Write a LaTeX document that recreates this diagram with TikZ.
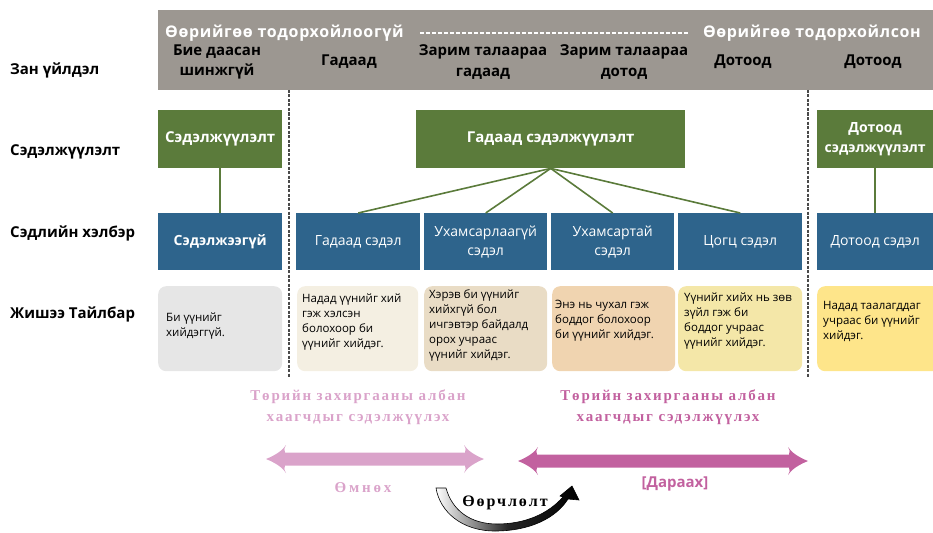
\documentclass[tikz,border=0pt]{standalone}
\usepackage{fontspec}
\setmainfont{Open Sans}
\newfontfamily\hdrfont{Open Sans}[LetterSpace=4]
\newfontfamily\pinkserif{Liberation Serif}[LetterSpace=12]
\newfontfamily\omserif{Liberation Serif}[LetterSpace=19]
\newfontfamily\blackserif{Liberation Serif}[LetterSpace=12]
\definecolor{gband}{HTML}{9C9791}
\definecolor{mgreen}{HTML}{5B7B3B}
\definecolor{mblue}{HTML}{2E648C}
\definecolor{sepgray}{HTML}{4A4A4A}
\definecolor{ea}{HTML}{E6E6E6}
\definecolor{eb}{HTML}{F4EFE2}
\definecolor{ec}{HTML}{E9DCC5}
\definecolor{ed}{HTML}{F0D4B0}
\definecolor{ee}{HTML}{F4E7A8}
\definecolor{ef}{HTML}{FEE58A}
\definecolor{lpink}{HTML}{DAA3CA}
\definecolor{dpink}{HTML}{C2619F}
\newcommand{\dblarr}[4]{%
  \fill[#4] (#1,#3) .. controls ({#1+10},{#3-4}) and ({#1+17},{#3-9}) .. ({#1+20},{#3-14})
    .. controls ({#1+18},{#3-10}) .. ({#1+19},{#3-6.5}) -- ({#2-19},{#3-6.5})
    .. controls ({#2-18},{#3-10}) .. ({#2-20},{#3-14})
    .. controls ({#2-17},{#3-9}) and ({#2-10},{#3-4}) .. (#2,#3)
    .. controls ({#2-10},{#3+4}) and ({#2-17},{#3+9}) .. ({#2-20},{#3+14})
    .. controls ({#2-18},{#3+10}) .. ({#2-19},{#3+6.5}) -- ({#1+19},{#3+6.5})
    .. controls ({#1+18},{#3+10}) .. ({#1+20},{#3+14})
    .. controls ({#1+17},{#3+9}) and ({#1+10},{#3+4}) .. (#1,#3) -- cycle;}
\begin{document}
\begin{tikzpicture}[x=1pt,y=-1pt,
  lbl/.style={anchor=west,inner sep=0pt,font=\bfseries\fontsize{15}{18}\selectfont},
  hdr/.style={inner sep=0pt,align=center,font=\bfseries\fontsize{15}{20.5}\selectfont},
  gbox/.style={anchor=north west,fill=mgreen,text=white,inner sep=0pt,align=center,
    minimum height=58pt,font=\bfseries\fontsize{15}{20}\selectfont},
  bbox/.style={anchor=north west,fill=mblue,text=white,inner sep=0pt,align=center,
    minimum height=57pt,font=\fontsize{14}{19}\selectfont},
  ebox/.style={anchor=north west,rounded corners=8pt,inner sep=0pt,minimum height=85pt},
  etext/.style={anchor=west,align=left,inner sep=0pt,font=\fontsize{11.5}{15}\selectfont},
  conn/.style={draw=mgreen,line width=1.6pt},
  sepline/.style={draw=sepgray,line width=1.3pt,dash pattern=on 3pt off 1.5pt},
  hdash/.style={draw=white,line width=1.3pt,dash pattern=on 4pt off 2pt},
  pinkt/.style={inner sep=0pt,align=center,font=\pinkserif\bfseries\fontsize{15}{21}\selectfont},
]
\useasboundingbox (0,0) rectangle (933,532);
% left labels
\node[lbl] (l1) at (10,70) {Зан үйлдэл};
\node[lbl] (l2) at (10,152) {Сэдэлжүүлэлт};
\node[lbl] (l3) at (10,233) {Сэдлийн хэлбэр};
\node[lbl] (l4) at (10,314) {Жишээ Тайлбар};
% header band
\node[anchor=north west,fill=gband,minimum width=780pt,minimum height=80pt,inner sep=0pt] (band) at (158,10) {};
\node[hdr,text=white,anchor=west,font=\hdrfont\bfseries\fontsize{16}{20}\selectfont] (h1) at (165,33) {Өөрийгөө тодорхойлоогүй};
\node[hdr,text=white,anchor=east,font=\hdrfont\bfseries\fontsize{16}{20}\selectfont] (h2) at (921,33) {Өөрийгөө тодорхойлсон};
\draw[hdash] ([xshift=16pt]h1.east) -- ([xshift=-15pt]h2.west);
\node[hdr] (c1) at (217,62) {Бие даасан\\шинжгүй};
\node[hdr] (c2) at (349,62) {Гадаад};
\node[hdr] (c3) at (483,62) {Зарим талаараа\\гадаад};
\node[hdr] (c4) at (624,62) {Зарим талаараа\\дотод};
\node[hdr] (c5) at (743,62) {Дотоод};
\node[hdr] (c6) at (873,62) {Дотоод};
% separators
\draw[sepline] (289,90) -- (289,377);
\draw[sepline] (808,90) -- (808,377);
% green boxes
\node[gbox,minimum width=124pt] (g1) at (158,110) {Сэдэлжүүлэлт};
\node[gbox,minimum width=269pt] (g2) at (416,110) {Гадаад сэдэлжүүлэлт};
\node[gbox,minimum width=116pt,font=\bfseries\fontsize{14}{20}\selectfont] (g3) at (817,110) {Дотоод\\сэдэлжүүлэлт};
% blue boxes
\node[bbox,minimum width=124pt,font=\bfseries\fontsize{14}{19}\selectfont] (b1) at (158,213) {Сэдэлжээгүй};
\node[bbox,minimum width=124pt] (b2) at (296,213) {Гадаад сэдэл};
\node[bbox,minimum width=123pt] (b3) at (424,213) {Ухамсарлаагүй\\сэдэл};
\node[bbox,minimum width=123pt] (b4) at (551,213) {Ухамсартай\\сэдэл};
\node[bbox,minimum width=124pt] (b5) at (678,213) {Цогц сэдэл};
\node[bbox,minimum width=116pt] (b6) at (817,213) {Дотоод сэдэл};
% connectors
\draw[conn] (g1.south) -- (b1.north);
\draw[conn] (g2.south) -- (b2.north);
\draw[conn] (g2.south) -- (b3.north);
\draw[conn] (g2.south) -- (b4.north);
\draw[conn] (g2.south) -- (b5.north);
\draw[conn] (g3.south) -- (b6.north);
% example boxes
\node[ebox,fill=ea,minimum width=124pt] (e1) at (158,286) {};
\node[ebox,fill=eb,minimum width=121pt] (e2) at (297,286) {};
\node[ebox,fill=ec,minimum width=123pt] (e3) at (424,286) {};
\node[ebox,fill=ed,minimum width=123pt] (e4) at (552,286) {};
\node[ebox,fill=ee,minimum width=124pt] (e5) at (678,286) {};
\node[ebox,fill=ef,minimum width=130pt] (e6) at (817,286) {};
\node[etext] (t1) at (166,326) {Би үүнийг\\хийдэггүй.};
\node[etext] (t2) at (302,322) {Надад үүнийг хий\\гэж хэлсэн\\болохоор би\\үүнийг хийдэг.};
\node[etext] (t3) at (429,325) {Хэрэв би үүнийг\\хийхгүй бол\\ичгэвтэр байдалд\\орох учраас\\үүнийг хийдэг.};
\node[etext] (t4) at (555,321) {Энэ нь чухал гэж\\боддог болохоор\\би үүнийг хийдэг.};
\node[etext] (t5) at (684,321) {Үүнийг хийх нь зөв\\зүйл гэж би\\боддог учраас\\үүнийг хийдэг.};
\node[etext] (t6) at (823,321) {Надад таалагддаг\\учраас би үүнийг\\хийдэг.};
% bottom
\node[pinkt,text=lpink] (p1) at (358,407) {Төрийн захиргааны албан\\хаагчдыг сэдэлжүүлэх};
\node[pinkt,text=dpink] (p2) at (668,407) {Төрийн захиргааны албан\\хаагчдыг сэдэлжүүлэх};
\dblarr{266}{484}{459}{lpink}
\dblarr{518}{808}{461}{dpink}
\node[inner sep=0pt,text=lpink,font=\omserif\bfseries\fontsize{15}{18}\selectfont] (om) at (363,488) {Өмнөх};
\node[inner sep=0pt,text=dpink,font=\bfseries\fontsize{15}{18}\selectfont] (da) at (675,484) {[Дараах]};
\shade[left color=white,right color=black,middle color=black!85,draw=black,line width=0.6pt]
  (436,488) .. controls (440,512) and (462,531) .. (495,531)
  .. controls (530,531) and (556,518) .. (568,499) -- (579,500) -- (572,486) -- (560,496) -- (563,497)
  .. controls (548,514) and (525,524) .. (497,524)
  .. controls (470,524) and (452,510) .. (446,488) -- cycle;
\node[inner sep=0pt,font=\blackserif\bfseries\fontsize{16}{18}\selectfont] (ch) at (505,503) {Өөрчлөлт};
\end{tikzpicture}
\end{document}
